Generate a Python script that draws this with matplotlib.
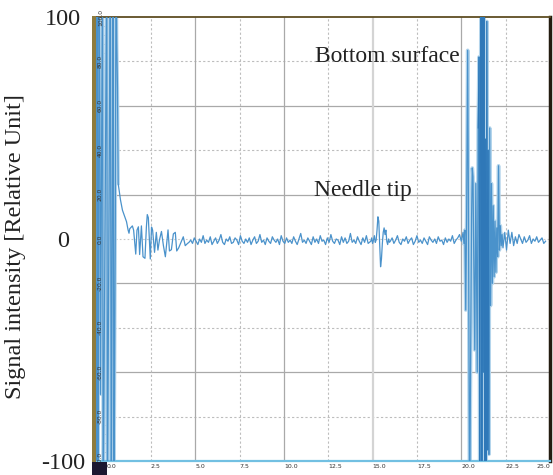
import numpy as np
import matplotlib
matplotlib.use("Agg")
import matplotlib.pyplot as plt
from matplotlib.patches import Rectangle

plt.rcParams.update({
    "font.family": "DejaVu Sans",
})

# ---- data (time in scope units, signal in relative units) ----
burst_start_t = [-0.60, -0.56, -0.53, -0.47, -0.42, -0.37, -0.34, -0.22, -0.19, 0.02,
                 0.05, 0.22, 0.27, 0.38, 0.42, 0.50, 0.54]
burst_start_v = [-20, -130, 130, -130, 130, 50, -70, 130, -130, 130,
                 -130, 130, -130, 130, -130, 10, 130]

decay_t = [0.58, 0.62, 0.66, 0.79, 0.90, 1.03, 1.13, 1.22, 1.27, 1.31, 1.46, 1.53,
           1.65, 1.72, 1.80, 1.87, 1.97, 2.06, 2.17, 2.25, 2.30, 2.36, 2.47, 2.54,
           2.60, 2.71, 2.81, 2.90, 2.99, 3.10, 3.21, 3.32, 3.39, 3.47, 3.55, 3.66,
           3.77, 3.88, 3.96, 4.07, 4.20, 4.33, 4.44, 4.57]
decay_v = [89, 68, 25, 17.6, 13, 10, 7.8, 4, 2.6, 4.6, 5.9, 4,
           -6.8, 4, 5.5, -7, 5.9, -8, -8.7, 5.4, 11, 9.6, -9, 5.4,
           4, -6, 3, -5, -0.3, 3.4, -3, -8, -2.2, 4.1, -5.4, -4.8,
           2.3, 3, -5.4, -4, -1.5, 1, -3, -2]

noise_a_t0, noise_a_dt = 4.65, 0.1
noise_a_v = [-1.5, -0.5, -2.0, 0.5, -1.0, -2.5, 0.0, -1.5, 1.5, -2.0, -0.5, -1.5, 1.0,
             -2.5, -1.0, 0.5, -2.0, -0.5, 2.0, -1.5, -2.5, 0.0, -1.0, 1.0, -2.0, -1.5,
             0.5, -0.5, -2.5, 1.5, -1.0, -2.0, 0.0, -1.5, 0.5, -2.5, -0.5, 1.0, -2.0,
             -1.0, 2.0, -1.5, -0.5, -2.5, 0.5, -1.0, -2.0, 1.0, -0.5, -1.5, 0.0, -2.5,
             1.5, -1.0, -2.0, 0.5, -1.5, -0.5, -2.0, 1.0, -1.0, -2.5, 0.0, 2.5, -1.5,
             -0.5, -2.0, 0.5, -1.0, -2.5, 1.0, -1.5, 0.0, -2.0, 1.5, -1.0, -0.5, -2.5,
             0.5, -1.5, 2.0, -1.0, -2.0, 0.0, -0.5, -2.5, 1.0, -1.5, 0.5, -2.0, -1.0,
             2.5, -1.5, -0.5, -2.0, 1.0, -1.0, -2.5, 0.5, -1.5, 1.5, -2.0]

needle_t0, needle_dt = 14.90, 0.05
needle_v = [-1.0, 0.5, -2.0, -0.5, 1.5, -1.5, -0.5, 4.0, 10.0, 8.0, -2.0,
            -12.5, -9.0, -2.0, 3.0, 5.0, 2.0, 4.0, -1.0, -2.5, 0.0, -1.5]

noise_b_t0, noise_b_dt = 16.0, 0.1
noise_b_v = [-1.0, 0.5, -2.0, -0.5, 1.5, -1.5, -2.5, 0.0, -1.0, 1.0, -2.0, -0.5, 0.5,
             -2.5, -1.0, 1.5, -1.5, -0.5, -2.0, 0.5, -1.0, -2.5, 1.0, -0.5, -1.5, 0.0,
             -2.0, 1.0, -1.0, -0.5, -2.5, 0.5, -1.5, 0.0, -1.0, 1.5, -2.0, -0.5, 0.5,
             2.0, -1.0, 3.0]

bottom_t = [20.15, 20.20, 20.25, 20.30, 20.36, 20.40, 20.47, 20.52, 20.58, 20.62,
            20.66, 20.70, 20.76, 20.82, 20.86, 20.90, 20.95, 21.00, 21.04, 21.08,
            21.12, 21.16, 21.20, 21.24, 21.28, 21.32, 21.36, 21.40, 21.44, 21.48,
            21.52, 21.56, 21.60, 21.65, 21.70, 21.75, 21.80, 21.85, 21.90, 21.95,
            22.00, 22.05, 22.10, 22.15, 22.20, 22.25, 22.30]
bottom_v = [-2, 4, -32, 10, 85, 20, -130, -60, 10, 32,
            28, -6, -50, 25, -20, -60, 50, 82, -130, 55,
            130, -130, 130, -60, 130, -130, 45, -130, 98, -95,
            40, -97, 50, -30, 25, -20, 15, -17, 8, -15,
            5, -8, 33, -5, 6, -3, 2]

tail_t0, tail_dt = 22.35, 0.1
tail_v = [-4, 3, -5, 4, -2, 3, -3, 1, -2, 2, 0, -2, 1, -1.5, -0.5, 1.5, -2, 0, -1,
          1, -1.5, -0.5, 0.5, -2, -1]

y_ticks = [100, 80, 60, 40, 20, 0, -20, -40, -60, -80, -100]
x_ticks = [0.0, 2.5, 5.0, 7.5, 10.0, 12.5, 15.0, 17.5, 20.0, 22.5, 25.0]
outer_ticks = [100, 0, -100]


def seg(t0, dt, v):
    return t0 + dt * np.arange(len(v)), np.array(v, dtype=float)


t_a, v_a = seg(noise_a_t0, noise_a_dt, noise_a_v)
t_n, v_n = seg(needle_t0, needle_dt, needle_v)
t_b, v_b = seg(noise_b_t0, noise_b_dt, noise_b_v)
t_tail, v_tail = seg(tail_t0, tail_dt, tail_v)

t_all = np.concatenate([burst_start_t, decay_t, t_a, t_n, t_b, bottom_t, t_tail])
v_all = np.concatenate([burst_start_v, decay_v, v_a, v_n, v_b, bottom_v, v_tail])

W, H = 553, 475
fig = plt.figure(figsize=(W / 100, H / 100), dpi=100)
ax = fig.add_axes([96 / W, 14 / H, 454 / W, 444 / H])

# grid
grid_style = {
    'solid': dict(color='#a9a9a9', linestyle='-', linewidth=0.9),
    'dash': dict(color='#bdbdbd', linestyle=(0, (2, 2)), linewidth=0.8),
    'dot': dict(color='#c8c8c8', linestyle=(0, (1.5, 2)), linewidth=0.8),
}
for yv in y_ticks[1:-1]:
    if yv == 0:
        st = 'dot'
    elif yv % 40 == 0:
        st = 'dash'
    else:
        st = 'solid'
    ax.axhline(yv, zorder=1, **grid_style[st])
for xv in x_ticks[1:-1]:
    if xv == 15.0:
        ax.axvline(xv, color='#d4d4d4', linewidth=1.6, zorder=1)
    elif xv % 5 == 0:
        ax.axvline(xv, zorder=1, **grid_style['solid'])
    else:
        ax.axvline(xv, zorder=1, **grid_style['dash'])

# signal: light underlay on the big bursts, then the trace itself
ax.plot(burst_start_t + decay_t[:3], burst_start_v + decay_v[:3], color='#b4d5ec', linewidth=2.4, zorder=2)
ax.plot(bottom_t, bottom_v, color='#b4d5ec', linewidth=2.6, zorder=2)
ax.plot(t_all, v_all, color='#4a92cb', linewidth=0.9, zorder=3)
ax.plot(bottom_t[16:32], bottom_v[16:32], color='#2f78b8', linewidth=0.7, zorder=4)

ax.set_xlim(-0.59, 24.78)
ax.set_ylim(-100, 100)

# inner scope axis labels
ax.set_yticks(y_ticks)
ax.set_yticklabels([f"{v:.1f}" for v in y_ticks], rotation=90, fontsize=4.3,
                   color='#333333', ha='center', va='center')
ax.tick_params(axis='y', length=0, pad=-3.2)
ax.set_xticks(x_ticks)
xl = ax.set_xticklabels([f"{v:.1f}" for v in x_ticks], fontsize=4.5, color='#333333', ha='left')
xl[-1].set_horizontalalignment('right')
ax.tick_params(axis='x', length=0, pad=2)
ax.yaxis.set_zorder(6)

sec = ax.secondary_yaxis(0.013)
sec.set_yticks(np.arange(-100, 101, 4))
sec.set_yticklabels([])
sec.tick_params(direction='in', length=3.5, color='#b0b0b0', width=0.6)
sec.spines['left'].set_visible(False)

ax.spines['left'].set_visible(False)
ax.spines['bottom'].set_color('#72c0e2')
ax.spines['bottom'].set_linewidth(1.6)
ax.spines['top'].set_color('#5e4d22')
ax.spines['top'].set_linewidth(1.3)
ax.spines['right'].set_color('#231c10')
ax.spines['right'].set_linewidth(2.5)

# annotations
serif = ['Liberation Serif', 'DejaVu Serif']
ax.text(11.75, 82, 'Bottom surface', fontsize=17, family=serif, color='#222222', va='center', ha='left')
ax.text(11.7, 22, 'Needle tip', fontsize=17, family=serif, color='#222222', va='center', ha='left')

# frame decorations of the screenshot
fig.patches.append(Rectangle((92 / W, 0), 4 / W, (H - 16) / H, transform=fig.transFigure,
                             facecolor='#8e7b3d', edgecolor='none', zorder=5))
fig.patches.append(Rectangle((92 / W, 0), 15 / W, 13 / H, transform=fig.transFigure,
                             facecolor='#1c1830', edgecolor='none', zorder=6))

# outer axis
ax_out = fig.add_axes([92 / W, 14 / H, 0.001, 444 / H])
ax_out.set_ylim(-100, 100)
ax_out.set_xticks([])
ax_out.set_yticks(outer_ticks)
ax_out.set_yticklabels([str(v) for v in outer_ticks], fontsize=17.5, family=serif,
                       color='#222222', ha='center')
ax_out.tick_params(axis='y', length=0, pad=21)
ax_out.patch.set_visible(False)
for s in ax_out.spines.values():
    s.set_visible(False)
ax_out.set_ylabel('Signal intensity [Relative Unit]', fontsize=17.5, family=serif, color='#222222')
ax_out.yaxis.set_label_coords(26 / W, 228 / H, transform=fig.transFigure)

fig.savefig('out.png', dpi=100)
